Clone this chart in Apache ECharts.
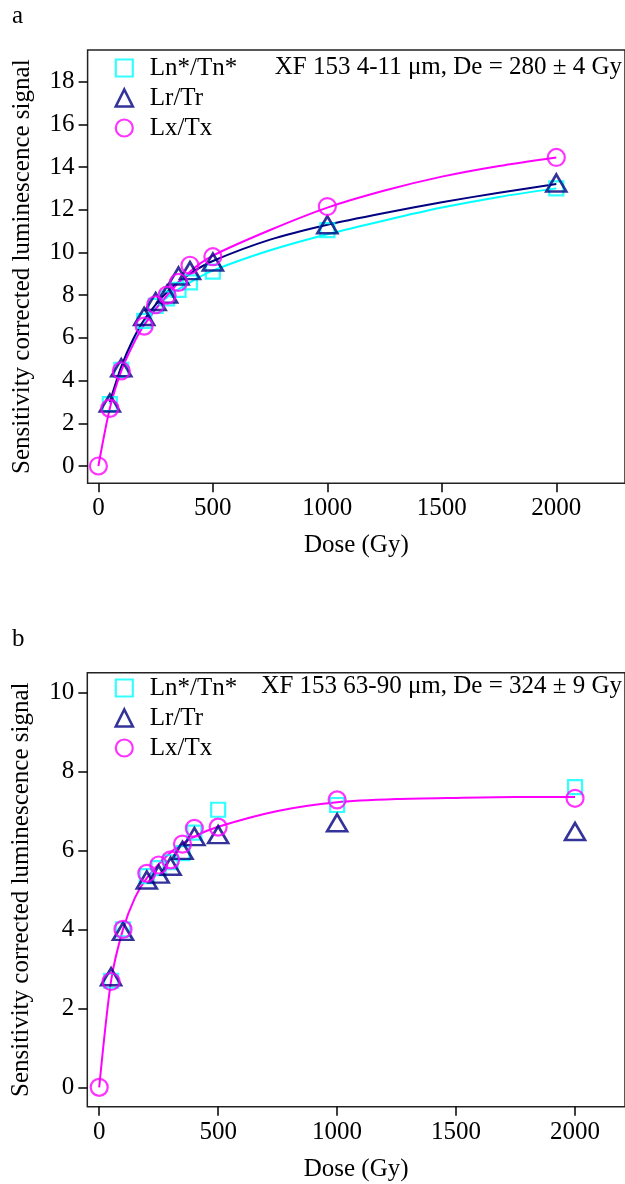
<!DOCTYPE html>
<html><head><meta charset="utf-8">
<script src="https://cdn.jsdelivr.net/npm/echarts@6/dist/echarts.min.js"></script>
<style>html,body{margin:0;padding:0;background:#fff}#c{width:625px;height:1184px}</style>
</head><body><div id="c"></div>
<script>
// ---- tick labels ----
const xTicks = [0, 500, 1000, 1500, 2000];
const yTicksA = [0, 2, 4, 6, 8, 10, 12, 14, 16, 18];
const yTicksB = [0, 2, 4, 6, 8, 10];

// ---- measured points (dose in Gy) ----
const dosesLx = [0, 50, 100, 200, 250, 300, 350, 400, 500, 1000, 2000];
const dosesLnLr = [50, 100, 200, 250, 300, 350, 400, 500, 1000, 2000];

// panel a: XF 153 4-11 um
const aLn = [2.9, 4.5, 6.8, 7.5, 7.85, 8.25, 8.6, 9.1, 11.05, 13.0];
const aLr = [2.95, 4.6, 7.0, 7.7, 8.05, 8.9, 9.15, 9.55, 11.3, 13.25];
const aLx = [0, 2.7, 4.45, 6.55, 7.55, 8.0, 8.6, 9.4, 9.8, 12.15, 14.45];

// panel b: XF 153 63-90 um
const bLn = [2.7, 4.0, 5.35, 5.55, 5.7, 5.93, 6.45, 7.03, 7.15, 7.6];
const bLr = [2.8, 3.95, 5.25, 5.4, 5.6, 6.0, 6.35, 6.4, 6.7, 6.48];
const bLx = [0, 2.68, 4.0, 5.42, 5.63, 5.76, 6.16, 6.56, 6.59, 7.28, 7.32];

// ---- fitted curves ----
const fitDose0 = [0, 50, 100, 150, 200, 300, 400, 500, 750, 1000, 1250, 1500, 1750, 2000];
const fitDose50 = [50, 100, 150, 200, 300, 400, 500, 750, 1000, 1250, 1500, 1750, 2000];
const fitA_Ln = [2.9, 4.55, 5.8, 6.75, 7.9, 8.6, 9.15, 10.1, 10.85, 11.5, 12.1, 12.6, 13.0];
const fitA_Lr = [3.0, 4.65, 5.9, 6.85, 8.15, 9.0, 9.6, 10.6, 11.3, 11.85, 12.35, 12.8, 13.2];
const fitA_Lx = [0, 2.7, 4.45, 5.65, 6.6, 8.0, 9.1, 9.85, 11.05, 12.1, 12.9, 13.55, 14.05, 14.45];
const fitB_Lx = [0, 2.7, 4.0, 4.8, 5.3, 5.95, 6.35, 6.6, 7.0, 7.22, 7.3, 7.33, 7.35, 7.35];

const labels = ['Ln*/Tn*', 'Lr/Tr', 'Lx/Tx'];
const notes = ['XF 153 4-11 \u03bcm, De = 280 \u00b1 4 Gy', 'XF 153 63-90 \u03bcm, De = 324 \u00b1 9 Gy'];
const yTitle = 'Sensitivity corrected luminescence signal';
const xTitle = 'Dose (Gy)';

const CYAN = '#00FFFF', NAVY = '#000080', MAG = '#FF00FF';
const FONT = 'Liberation Serif';
const FS = 25;
const zip = (xs, ys) => xs.map((x, i) => [x, ys[i]]);

function xAxis(gi, min, max) {
  return {
    gridIndex: gi, type: 'value', min: min, max: max,
    axisLine: { show: false, onZero: false },
    axisTick: { customValues: xTicks, length: 9, lineStyle: { color: '#000', width: 1.5 } },
    axisLabel: { customValues: xTicks, formatter: v => String(v), fontFamily: FONT, fontSize: FS, color: '#000', margin: 13 },
    splitLine: { show: false },
    name: xTitle, nameLocation: 'middle', nameGap: 50,
    nameTextStyle: { fontFamily: FONT, fontSize: FS, color: '#000' }
  };
}
function yAxis(gi, min, max, ticks) {
  return {
    gridIndex: gi, type: 'value', min: min, max: max,
    axisLine: { show: false, onZero: false },
    axisTick: { customValues: ticks, length: 9, lineStyle: { color: '#000', width: 1.5 } },
    axisLabel: { customValues: ticks, formatter: v => String(v), fontFamily: FONT, fontSize: FS, color: '#000', margin: 13 },
    splitLine: { show: false },
    name: yTitle, nameLocation: 'middle', nameGap: 53,
    nameTextStyle: { fontFamily: FONT, fontSize: FS, color: '#000' }
  };
}
function fit(gi, name, xs, ys, color) {
  return { type: 'line', name: name, xAxisIndex: gi, yAxisIndex: gi, data: zip(xs, ys),
    smooth: 0.25, showSymbol: false, symbol: 'none', silent: true,
    lineStyle: { color: color, width: 2 }, z: 2 };
}
function pts(gi, name, xs, ys, color, symbol, size, bw, z) {
  return { type: 'scatter', name: name, xAxisIndex: gi, yAxisIndex: gi, data: zip(xs, ys),
    symbol: symbol, symbolSize: size,
    itemStyle: { color: 'transparent', borderColor: color, borderWidth: bw }, z: z };
}
function legend(top) {
  return {
    orient: 'vertical', left: 109.5, top: top, itemWidth: 17, itemHeight: 17, itemGap: 0,
    textStyle: { fontFamily: FONT, fontSize: FS, color: '#000', lineHeight: 30, padding: [0, 0, 0, 12] },
    selectedMode: false,
    data: [
      { name: labels[0], icon: 'rect', itemStyle: { color: 'transparent', borderColor: CYAN, borderWidth: 2.2 } },
      { name: labels[1], icon: 'triangle', itemStyle: { color: 'transparent', borderColor: NAVY, borderWidth: 2.6 } },
      { name: labels[2], icon: 'circle', itemStyle: { color: 'transparent', borderColor: MAG, borderWidth: 2.2 } }
    ]
  };
}

const chart = echarts.init(document.getElementById('c'), null, { renderer: 'canvas' });
chart.setOption({
  animation: false,
  backgroundColor: '#fff',
  grid: [
    { left: 87.6, top: 50, width: 537.8, height: 433.3, show: true, borderColor: '#222', borderWidth: 1.5, containLabel: false },
    { left: 87.3, top: 672.7, width: 537.8, height: 434, show: true, borderColor: '#222', borderWidth: 1.5, containLabel: false }
  ],
  xAxis: [xAxis(0, -47.1, 2300), xAxis(1, -50, 2210)],
  yAxis: [yAxis(0, -0.81, 19.48, yTicksA), yAxis(1, -0.49, 10.5, yTicksB)],
  legend: [legend(48), legend(668)],
  graphic: [
    { type: 'text', left: 12, top: 4, style: { text: 'a', font: '25px "Liberation Serif"', fill: '#000' } },
    { type: 'text', left: 12, top: 627, style: { text: 'b', font: '25px "Liberation Serif"', fill: '#000' } },
    { type: 'text', right: 3, top: 55, style: { text: notes[0], font: '25px "Liberation Serif"', fill: '#000' } },
    { type: 'text', right: 3, top: 674, style: { text: notes[1], font: '25px "Liberation Serif"', fill: '#000' } }
  ],
  series: [
    fit(0, 'fitA-Ln', fitDose50, fitA_Ln, CYAN),
    fit(0, 'fitA-Lr', fitDose50, fitA_Lr, NAVY),
    pts(0, labels[0], dosesLnLr, aLn, CYAN, 'rect', 14, 2.2, 3),
    pts(0, labels[1], dosesLnLr, aLr, NAVY, 'triangle', [20, 17], 2.6, 4),
    fit(0, 'fitA-Lx', fitDose0, fitA_Lx, MAG),
    pts(0, labels[2], dosesLx, aLx, MAG, 'circle', 17, 2.2, 5),

    pts(1, labels[0], dosesLnLr, bLn, CYAN, 'rect', 14, 2.2, 3),
    pts(1, labels[1], dosesLnLr, bLr, NAVY, 'triangle', [20, 17], 2.6, 4),
    fit(1, 'fitB-Lx', fitDose0, fitB_Lx, MAG),
    pts(1, labels[2], dosesLx, bLx, MAG, 'circle', 17, 2.2, 5)
  ]
});
</script>
</body></html>
